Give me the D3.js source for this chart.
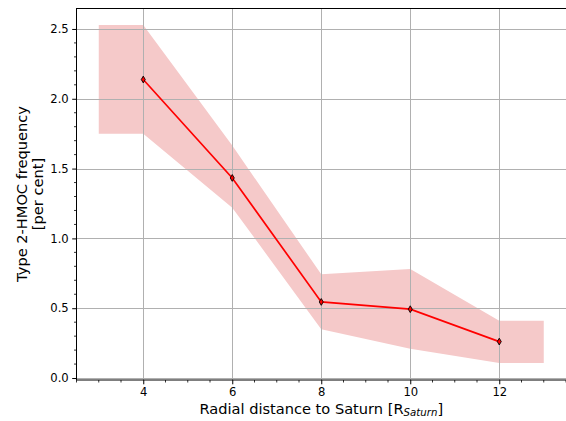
<!DOCTYPE html>
<html>
<head>
<meta charset="utf-8">
<script src="https://cdn.jsdelivr.net/npm/d3@7"></script>
<style>
  html, body { margin: 0; padding: 0; background: #fff; }
  svg { display: block; font-family: "DejaVu Sans", sans-serif; }
</style>
</head>
<body>
<svg id="chart" width="566" height="421"></svg>
<script>
// Type 2-HMOC occurrence versus radial distance, with its uncertainty band
const distances = [4, 6, 8, 10, 12];
const frequency = [2.138, 1.433, 0.545, 0.493, 0.261];

const bandX     = [3, 4, 6, 8, 10, 12, 13];
const bandUpper = [2.529, 2.529, 1.665, 0.743, 0.780, 0.411, 0.411];
const bandLower = [1.750, 1.750, 1.220, 0.350, 0.209, 0.107, 0.107];

const xTicks = [4, 6, 8, 10, 12];
const yTicks = [0.0, 0.5, 1.0, 1.5, 2.0, 2.5];

const svg = d3.select("#chart");
const plotLeft = 76.5, plotRight = 566, plotTop = 8, plotBottom = 380;

const x = d3.scaleLinear().domain([2.5, 13.5]).range([plotLeft, plotRight]);
const y = d3.scaleLinear().domain([-0.0141, 2.6501]).range([plotBottom, plotTop]);

// uncertainty band
const band = bandX.map((v, i) => ({x: v, lo: bandLower[i], hi: bandUpper[i]}));
svg.append("path")
  .datum(band)
  .attr("fill", "rgb(245,201,201)")
  .attr("d", d3.area().x(d => x(d.x)).y0(d => y(d.lo)).y1(d => y(d.hi)));

// grid
const grid = svg.append("g").attr("stroke", "#b0b0b0").attr("stroke-width", 1);
grid.selectAll("line.gx").data(xTicks).join("line")
  .attr("x1", d => Math.round(x(d)) + 0.5).attr("x2", d => Math.round(x(d)) + 0.5)
  .attr("y1", plotTop).attr("y2", plotBottom);
grid.selectAll("line.gy").data(yTicks).join("line")
  .attr("y1", d => Math.round(y(d)) + 0.5).attr("y2", d => Math.round(y(d)) + 0.5)
  .attr("x1", plotLeft).attr("x2", plotRight);

// series line and markers
const pts = distances.map((d, i) => ({x: d, y: frequency[i]}));
svg.append("path")
  .datum(pts)
  .attr("fill", "none")
  .attr("stroke", "#ff0000")
  .attr("stroke-width", 1.7)
  .attr("d", d3.line().x(d => x(d.x)).y(d => y(d.y)));
svg.selectAll("path.mk").data(pts).join("path")
  .attr("class", "mk")
  .attr("d", "M0,-3.4L2,0L0,3.4L-2,0Z")
  .attr("transform", d => `translate(${x(d.x)},${y(d.y)})`)
  .attr("fill", "#ff0000")
  .attr("stroke", "#000")
  .attr("stroke-width", 0.9);

// axes
const xAxis = d3.axisBottom(x).tickValues(xTicks).tickFormat(d3.format("d"))
  .tickSize(4.3).tickPadding(3.5);
const yAxis = d3.axisLeft(y).tickValues(yTicks).tickFormat(d3.format(".1f"))
  .tickSize(4.3).tickPadding(3.5);

const gx = svg.append("g").attr("transform", `translate(0,${plotBottom})`).call(xAxis);
const gy = svg.append("g").attr("transform", `translate(${plotLeft},0)`).call(yAxis);

const xMinor = d3.range(2.5, 13.51, 0.5).filter(v => !xTicks.includes(v));
const yMinor = d3.range(0, 26).map(i => i / 10).filter(v => !yTicks.some(t => Math.abs(t - v) < 1e-9));
gx.selectAll("line.minor").data(xMinor).join("line")
  .attr("class", "minor")
  .attr("x1", d => x(d)).attr("x2", d => x(d))
  .attr("y1", 0).attr("y2", 2.5).attr("stroke", "#000").attr("stroke-width", 0.8);
gy.selectAll("line.minor").data(yMinor).join("line")
  .attr("class", "minor")
  .attr("y1", d => y(d)).attr("y2", d => y(d))
  .attr("x1", 0).attr("x2", -2.5).attr("stroke", "#000").attr("stroke-width", 0.8);

[gx, gy].forEach(g => {
  g.select(".domain").attr("stroke", "#000").attr("stroke-width", 1);
  g.selectAll(".tick line").attr("stroke", "#000").attr("stroke-width", 1);
  g.selectAll(".tick text").attr("fill", "#000")
    .style("font-family", "DejaVu Sans").style("font-size", "11.6px");
});
// full frame: top spine plus the axis lines
gx.select(".domain").attr("d", `M${plotLeft},0H${plotRight}`);
gy.select(".domain").attr("d", `M0,${plotBottom}V${plotTop}`);
svg.append("line").attr("x1", plotLeft).attr("x2", plotRight).attr("y1", plotTop + 0.5).attr("y2", plotTop + 0.5)
  .attr("stroke", "#000").attr("stroke-width", 1);

// axis titles
const xl = svg.append("text")
  .attr("x", (plotLeft + plotRight) / 2).attr("y", 413.5)
  .attr("text-anchor", "middle")
  .style("font-size", "14.6px").attr("fill", "#000");
xl.append("tspan").text("Radial distance to Saturn [R");
xl.append("tspan").attr("font-style", "italic").style("font-size", "10.2px").attr("dy", 2.8).text("Saturn");
xl.append("tspan").attr("dy", -2.8).text("]");

const yl = svg.append("text")
  .attr("transform", `translate(26.5,${(plotTop + plotBottom) / 2}) rotate(-90)`)
  .attr("text-anchor", "middle")
  .style("font-size", "14.6px").attr("fill", "#000");
yl.append("tspan").attr("x", 0).attr("y", 0).text("Type 2-HMOC frequency");
yl.append("tspan").attr("x", 0).attr("y", 16.5).text("[per cent]");
</script>
</body>
</html>
